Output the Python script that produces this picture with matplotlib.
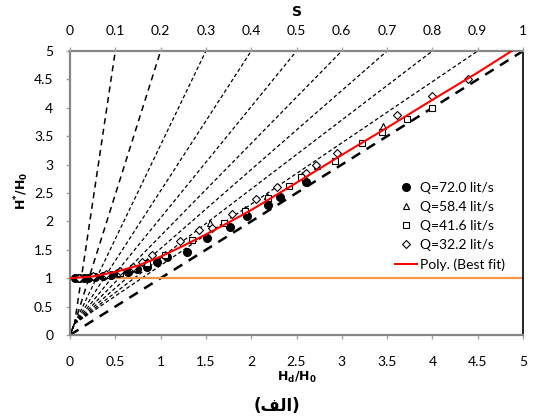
import numpy as np
import matplotlib
matplotlib.use('Agg')
import matplotlib.pyplot as plt

plt.rcParams['font.family'] = ['Lato', 'DejaVu Sans']
plt.rcParams['mathtext.fontset'] = 'dejavusans'

# measured series (Hd/H0, H*/H0)
q72_x = [0.05, 0.1, 0.15, 0.2, 0.28, 0.36, 0.45, 0.53, 0.64, 0.74, 0.85, 0.96, 1.07, 1.29, 1.51, 1.77, 1.95, 2.18, 2.32, 2.6]
q72_y = [1.0, 1.0, 1.01, 1.01, 1.02, 1.04, 1.06, 1.09, 1.11, 1.16, 1.2, 1.29, 1.37, 1.47, 1.70, 1.91, 2.09, 2.29, 2.43, 2.70]

q58_x = [0.1, 0.25, 0.4, 0.55, 0.7, 0.85, 1.05, 1.34, 1.55, 1.93, 2.17, 2.56, 2.73, 3.45]
q58_y = [1.01, 1.02, 1.05, 1.1, 1.18, 1.3, 1.42, 1.67, 1.97, 2.21, 2.44, 2.82, 2.98, 3.68]

q41_x = [0.1, 0.25, 0.4, 0.55, 0.7, 0.85, 1.05, 1.35, 1.7, 1.93, 2.19, 2.42, 2.55, 2.93, 3.22, 3.44, 3.72, 4.0]
q41_y = [1.01, 1.03, 1.06, 1.1, 1.18, 1.27, 1.4, 1.68, 1.98, 2.19, 2.42, 2.63, 2.78, 3.07, 3.38, 3.57, 3.8, 4.0]

q32_x = [0.1, 0.25, 0.4, 0.55, 0.7, 0.8, 0.9, 1.21, 1.42, 1.57, 1.79, 2.05, 2.29, 2.6, 2.72, 2.95, 3.61, 4.0, 4.39]
q32_y = [1.01, 1.03, 1.07, 1.12, 1.2, 1.28, 1.4, 1.65, 1.85, 1.88, 2.13, 2.39, 2.6, 2.86, 2.99, 3.21, 3.87, 4.2, 4.51]

# best fit curve
fit_x = [0, 0.25, 0.5, 0.75, 1.0, 1.25, 1.5, 1.75, 2.0, 2.5, 3.0, 3.5, 4.0, 4.5, 4.875]
fit_y = [1.0, 1.03, 1.11, 1.22, 1.38, 1.57, 1.77, 1.98, 2.2, 2.68, 3.17, 3.65, 4.14, 4.62, 5.0]

# constant-S guide lines
s_values = [0.1, 0.2, 0.3, 0.4, 0.5, 0.6, 0.7, 0.8, 0.9, 1.0]
s_top_x = [0.5, 1.0, 1.5, 2.0, 2.5, 3.0, 3.5, 4.0, 4.5, 5.0]
s_base_x = [0.05, 0.05, 0.05, 0.05, 0.05, 0.05, 0.05, 0.05, 0.05, 0.0]
s_base_y = [0.2, 0.2, 0.2, 0.2, 0.2, 0.2, 0.2, 0.2, 0.2, 0.0]

x_ticks = [0, 0.5, 1, 1.5, 2, 2.5, 3, 3.5, 4, 4.5, 5]
x_tick_labels = ['0', '0.5', '1', '1.5', '2', '2.5', '3', '3.5', '4', '4.5', '5']
s_ticks = [0, 0.1, 0.2, 0.3, 0.4, 0.5, 0.6, 0.7, 0.8, 0.9, 1]
s_tick_labels = ['0', '0.1', '0.2', '0.3', '0.4', '0.5', '0.6', '0.7', '0.8', '0.9', '1']

fig = plt.figure(figsize=(5.33, 4.19), dpi=100)
ax = fig.add_axes([70/533, 84/419, 453/533, 284/419])

# dashed S lines
for s, tx, bx, by in zip(s_values, s_top_x, s_base_x, s_base_y):
    if s <= 0.2:
        lw, dash = 1.1, (4, 3)
    elif s >= 1.0:
        lw, dash = 1.8, (4, 3)
    else:
        lw, dash = 0.9, (3, 2)
    ax.plot([0, bx, tx], [0, by, 5], color='black', lw=lw, dashes=dash, zorder=2)

ax.axhline(1.0, color='#F79646', lw=1.6, zorder=2)

ax.plot(q72_x, q72_y, 'o', color='black', ms=5.5, label='Q=72.0 lit/s', zorder=4)
ax.plot(q58_x, q58_y, '^', mfc='white', mec='black', mew=0.8, ms=5, label='Q=58.4 lit/s', zorder=4)
ax.plot(q41_x, q41_y, 's', mfc='white', mec='black', mew=0.8, ms=5, label='Q=41.6 lit/s', zorder=4)
ax.plot(q32_x, q32_y, 'D', mfc='white', mec='black', mew=0.8, ms=4.2, label='Q=32.2 lit/s', zorder=4)
ax.plot(fit_x, fit_y, color='red', lw=1.5, label='Poly. (Best fit)', zorder=5)

ax.set_xlim(0, 5)
ax.set_ylim(0, 5)
ax.set_xticks(x_ticks)
ax.set_xticklabels(x_tick_labels)
ax.set_yticks(x_ticks)
ax.set_yticklabels(x_tick_labels)
ax.tick_params(axis='x', direction='out', length=3, width=1, color='#A6A6A6', labelsize=10, pad=12)
ax.tick_params(axis='y', direction='out', length=3, width=1, color='#A6A6A6', labelsize=10, pad=9)

for side in ['left', 'bottom', 'top']:
    ax.spines[side].set_color('#868686')
    ax.spines[side].set_linewidth(1.6)
ax.spines['right'].set_color('black')
ax.spines['right'].set_linewidth(1.2)

ax2 = ax.twiny()
ax2.set_xlim(0, 1)
ax2.set_xticks(s_ticks)
ax2.set_xticklabels(s_tick_labels)
ax2.tick_params(direction='out', length=3, width=1, color='#A6A6A6', labelsize=10, pad=7)
for side in ['left', 'bottom', 'top', 'right']:
    ax2.spines[side].set_visible(False)

# axis titles
fig.text(297/533, 1 - 377/419, r'$\mathbf{H_d/H_0}$', ha='center', va='center', fontsize=9)
fig.text(22/533, 1 - 191/419, r'$\mathbf{H^{*}/H_0}$', ha='center', va='center', fontsize=9, rotation=90)
fig.text(297/533, 1 - 12/419, 'S', ha='center', va='center', fontsize=10, fontweight='bold',
         family=['DejaVu Sans'])

ax.legend(loc='lower left', bbox_to_anchor=(0.705, 0.207), frameon=False, fontsize=10,
          handlelength=1.6, handletextpad=0.2, labelspacing=0.5, borderaxespad=0.0)

# caption in Arabic, written with presentation forms in visual order
fig.text(277/533, 1 - 406/419, '(\ufed2\ufedf\ufe8d)', ha='center', va='center',
         fontsize=12, fontweight='bold', family=['DejaVu Sans'])

fig.savefig('out.png', dpi=100)
